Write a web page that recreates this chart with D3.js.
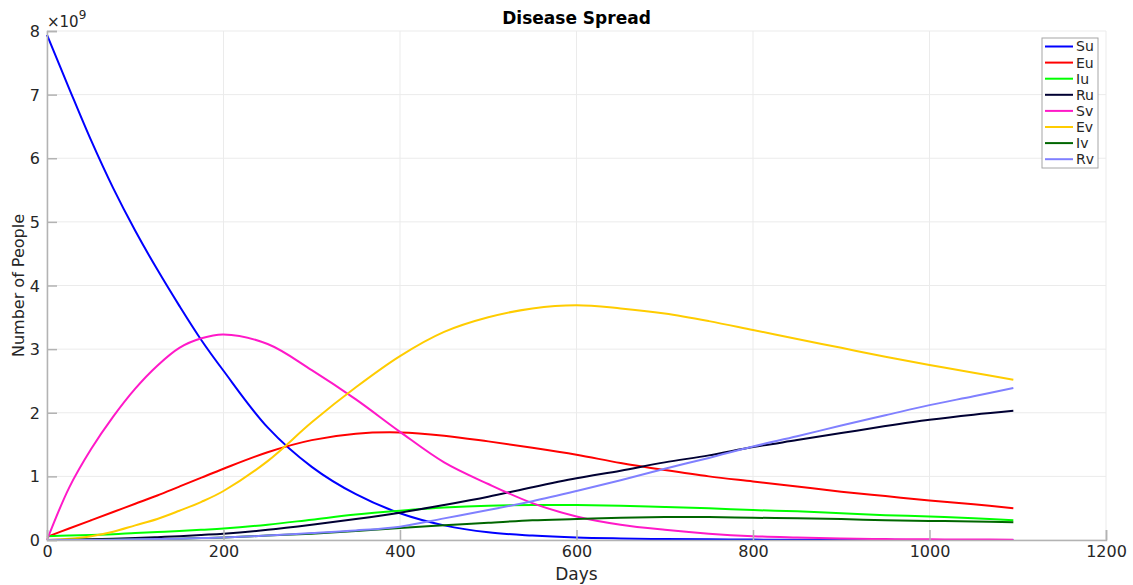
<!DOCTYPE html>
<html>
<head>
<meta charset="utf-8">
<script src="https://cdn.jsdelivr.net/npm/d3@7"></script>
<style>
  html, body { margin: 0; padding: 0; background: #fff; }
  svg text { font-family: "DejaVu Sans", sans-serif; }
</style>
</head>
<body>
<svg id="chart" width="1133" height="585"></svg>
<script>
// Simulation output, in units of 1e9 people
const days = [0, 25, 50, 75, 100, 125, 150, 175, 200, 250, 300, 350, 400, 450, 500, 550, 600, 650, 700, 750, 800, 850, 900, 950, 1000, 1050, 1095];

const Su = [7.94, 7.10, 6.28, 5.53, 4.86, 4.25, 3.68, 3.14, 2.66, 1.77, 1.15, 0.72, 0.42, 0.23, 0.12, 0.07, 0.04, 0.025, 0.015, 0.01, 0.006, 0.004, 0.003, 0.002, 0.001, 0.001, 0.0];
const Eu = [0.05, 0.18, 0.31, 0.44, 0.57, 0.70, 0.84, 0.98, 1.12, 1.38, 1.57, 1.67, 1.69, 1.64, 1.55, 1.45, 1.34, 1.21, 1.10, 1.00, 0.92, 0.84, 0.76, 0.69, 0.62, 0.56, 0.50];
const Iu = [0.06, 0.07, 0.08, 0.09, 0.11, 0.125, 0.14, 0.16, 0.18, 0.24, 0.32, 0.40, 0.46, 0.51, 0.54, 0.55, 0.55, 0.54, 0.52, 0.50, 0.47, 0.45, 0.42, 0.39, 0.37, 0.34, 0.31];
const Ru = [0.0, 0.005, 0.01, 0.02, 0.03, 0.045, 0.06, 0.08, 0.10, 0.16, 0.24, 0.33, 0.43, 0.55, 0.68, 0.83, 0.97, 1.09, 1.22, 1.33, 1.46, 1.57, 1.68, 1.79, 1.89, 1.97, 2.03];
const Sv = [0.0, 0.82, 1.43, 1.94, 2.38, 2.74, 3.02, 3.17, 3.23, 3.08, 2.67, 2.21, 1.70, 1.22, 0.88, 0.58, 0.37, 0.24, 0.16, 0.10, 0.06, 0.04, 0.025, 0.015, 0.01, 0.007, 0.005];
const Ev = [0.0, 0.02, 0.06, 0.13, 0.23, 0.33, 0.46, 0.60, 0.77, 1.24, 1.85, 2.40, 2.89, 3.27, 3.50, 3.64, 3.69, 3.64, 3.56, 3.44, 3.30, 3.16, 3.02, 2.88, 2.75, 2.63, 2.52];
const Iv = [0.0, 0.002, 0.005, 0.007, 0.01, 0.015, 0.02, 0.03, 0.04, 0.07, 0.10, 0.14, 0.19, 0.23, 0.27, 0.31, 0.33, 0.35, 0.36, 0.36, 0.35, 0.34, 0.33, 0.31, 0.30, 0.29, 0.28];
const Rv = [0.0, 0.0, 0.0, 0.005, 0.01, 0.015, 0.02, 0.03, 0.04, 0.07, 0.11, 0.15, 0.21, 0.34, 0.47, 0.61, 0.77, 0.94, 1.12, 1.29, 1.47, 1.63, 1.80, 1.96, 2.12, 2.26, 2.39];

const seriesNames = ["Su", "Eu", "Iu", "Ru", "Sv", "Ev", "Iv", "Rv"];
const seriesValues = [Su, Eu, Iu, Ru, Sv, Ev, Iv, Rv];
const seriesColors = ["#0000ff", "#ff0000", "#00ff00", "#000033", "#ff19c8", "#ffcc00", "#006600", "#8080ff"];

const xTicks = [0, 200, 400, 600, 800, 1000, 1200];
const yTicks = [0, 1, 2, 3, 4, 5, 6, 7, 8];

const svg = d3.select("#chart");
const margin = { left: 47, right: 27, top: 31, bottom: 45 };
const W = 1133, H = 585;

const x = d3.scaleLinear().domain([0, 1200]).range([margin.left, W - margin.right]);
const y = d3.scaleLinear().domain([0, 8]).range([H - margin.bottom, margin.top]);

const axisColor = "#b3b3b3";
const textColor = "#262626";

// grid
const grid = svg.append("g");
grid.selectAll(".gx").data(xTicks).join("line")
  .attr("x1", d => x(d)).attr("x2", d => x(d))
  .attr("y1", y(0)).attr("y2", y(8))
  .attr("stroke", "#ebebeb").attr("stroke-width", 1);
grid.selectAll(".gy").data(yTicks).join("line")
  .attr("x1", x(0)).attr("x2", x(1200))
  .attr("y1", d => y(d)).attr("y2", d => y(d))
  .attr("stroke", "#ebebeb").attr("stroke-width", 1);

// series
const line = d3.line()
  .x((d, i) => x(days[i]))
  .y(d => y(d))
  .curve(d3.curveCatmullRom.alpha(0.5));

svg.append("g").selectAll("path").data(seriesValues).join("path")
  .attr("d", d => line(d))
  .attr("fill", "none")
  .attr("stroke", (d, i) => seriesColors[i])
  .attr("stroke-width", 2)
  .attr("stroke-linejoin", "round");

// axes with inward ticks
const xAxis = svg.append("g")
  .attr("transform", `translate(0,${y(0)})`)
  .call(d3.axisBottom(x).tickValues(xTicks).tickSize(-10).tickPadding(5).tickFormat(d3.format("d")));
const yAxis = svg.append("g")
  .attr("transform", `translate(${x(0)},0)`)
  .call(d3.axisLeft(y).tickValues(yTicks).tickSize(-10).tickPadding(7).tickFormat(d3.format("d")));

[xAxis, yAxis].forEach(a => {
  a.attr("font-size", null).attr("font-family", null);
  a.select(".domain").attr("stroke", axisColor).attr("stroke-width", 1.5);
  a.selectAll(".tick line").attr("stroke", axisColor).attr("stroke-width", 1.5);
  a.selectAll(".tick text").attr("fill", textColor).style("font-size", "16px");
});
xAxis.selectAll(".tick text").attr("y", 6).attr("dy", "0.71em");
yAxis.selectAll(".tick text").attr("x", -7).attr("dy", "0.35em");

// exponent label
const expo = svg.append("text")
  .attr("x", x(0)).attr("y", 27)
  .attr("fill", textColor)
  .style("font-size", "15px");
expo.append("tspan").text("\u00d710");
expo.append("tspan").attr("dy", -8).style("font-size", "12px").text("9");

// title
svg.append("text")
  .attr("x", (x(0) + x(1200)) / 2).attr("y", 24)
  .attr("text-anchor", "middle")
  .attr("fill", "#000")
  .style("font-size", "17px").style("font-weight", "bold")
  .text("Disease Spread");

// axis labels
svg.append("text")
  .attr("x", (x(0) + x(1200)) / 2).attr("y", 580)
  .attr("text-anchor", "middle")
  .attr("fill", textColor)
  .style("font-size", "17px")
  .text("Days");
svg.append("text")
  .attr("transform", `translate(24,${(y(0) + y(8)) / 2}) rotate(-90)`)
  .attr("text-anchor", "middle")
  .attr("fill", textColor)
  .style("font-size", "16px")
  .text("Number of People");

// legend
const lg = svg.append("g").attr("transform", "translate(1042,38)");
lg.append("rect").attr("width", 56).attr("height", 130)
  .attr("fill", "#fff").attr("stroke", "#a6a6a6").attr("stroke-width", 1);
const items = lg.selectAll(".item").data(seriesNames).join("g")
  .attr("transform", (d, i) => `translate(0,${8.5 + i * 16.1})`);
items.append("line").attr("x1", 3).attr("x2", 31).attr("y1", 0).attr("y2", 0)
  .attr("stroke", (d, i) => seriesColors[i]).attr("stroke-width", 2);
items.append("text").attr("x", 34).attr("y", 0).attr("dy", "0.35em")
  .attr("fill", textColor).style("font-size", "14px")
  .text(d => d);
</script>
</body>
</html>
